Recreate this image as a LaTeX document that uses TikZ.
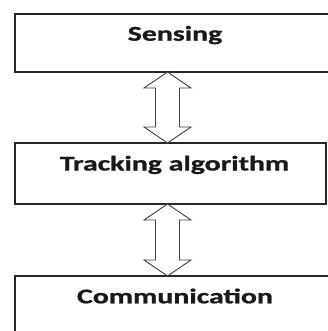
\documentclass[tikz,border=0pt]{standalone}
\usepackage{fontspec}
\setmainfont{Carlito}[BoldFeatures={FakeBold=0.8}]
\usetikzlibrary{calc}
\tikzset{
  box/.style={draw=black!85, line width=1.3pt, fill=white, rectangle, inner sep=0pt, outer sep=0pt},
  lbl/.style={anchor=base, inner sep=0pt, text=black!90, font=\fontsize{21}{24}\selectfont\bfseries},
  blockarrow/.style={draw=black!75, line width=0.9pt, fill=white, line join=miter},
}
% double-headed block arrow between two points (y runs downwards)
\newcommand{\dblarrow}[2]{%
  \draw[blockarrow] (#1) -- ($(#1)+(-23.5,16)$) -- ($(#1)+(-12,16)$)
    -- ($(#2)+(-12,-16)$) -- ($(#2)+(-23.5,-16)$) -- (#2)
    -- ($(#2)+(23.5,-16)$) -- ($(#2)+(12,-16)$)
    -- ($(#1)+(12,16)$) -- ($(#1)+(23.5,16)$) -- cycle;}
\newcommand{\wide}[1]{\scalebox{1.42}[1]{#1}}
\begin{document}
\begin{tikzpicture}[x=1pt, y=-1pt]
  \useasboundingbox[fill=white] (0,0) rectangle (327,331);
  % boxes
  \node[box, minimum width=320pt, minimum height=58pt] (sense) at (175,43) {};
  \node[box, minimum width=311pt, minimum height=61pt] (track) at (170.5,173.5) {};
  \node[box, minimum width=320pt, minimum height=69pt] (comm) at (175,310.5) {};
  % labels
  \node[lbl] (lsense) at (175,40.7) {\wide{Sensing}};
  \node[lbl] (ltrack) at (174.5,170.5) {\wide{Tracking algorithm}};
  \node[lbl] (lcomm) at (175,303.3) {\wide{Communication}};
  % connectors
  \coordinate (ax) at (167.5,0);
  \path (sense.south -| ax) coordinate (a1) (track.north -| ax) coordinate (a2)
        (track.south -| ax) coordinate (a3) (comm.north -| ax) coordinate (a4);
  \dblarrow{a1}{a2}
  \dblarrow{a3}{a4}
\end{tikzpicture}
\end{document}
